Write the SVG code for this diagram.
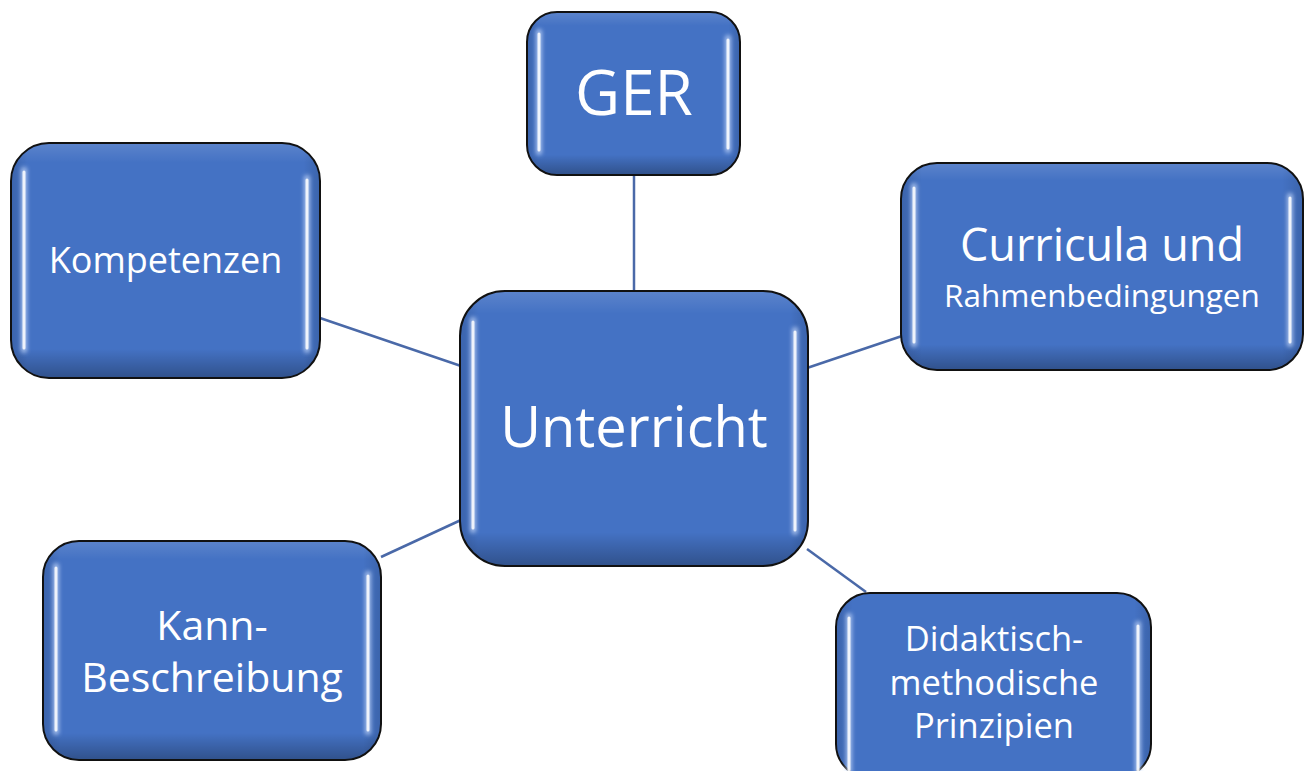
<svg xmlns="http://www.w3.org/2000/svg" width="1312" height="771" viewBox="0 0 1312 771">
<defs>
<linearGradient id="shade" x1="0" y1="0" x2="0" y2="1">
<stop offset="0" stop-color="#ffffff" stop-opacity="0.12"/>
<stop offset="0.08" stop-color="#ffffff" stop-opacity="0"/>
<stop offset="0.88" stop-color="#000000" stop-opacity="0"/>
<stop offset="1" stop-color="#000000" stop-opacity="0.28"/>
</linearGradient>
<linearGradient id="side" x1="0" y1="0" x2="1" y2="0">
<stop offset="0" stop-color="#000000" stop-opacity="0.12"/>
<stop offset="0.05" stop-color="#000000" stop-opacity="0"/>
<stop offset="0.95" stop-color="#000000" stop-opacity="0"/>
<stop offset="1" stop-color="#000000" stop-opacity="0.12"/>
</linearGradient>
<filter id="glow" x="-50%" y="-10%" width="200%" height="120%">
<feGaussianBlur stdDeviation="2"/>
</filter>
</defs>
<style>
.box{fill:#4472c4;stroke:#111;stroke-width:2}
.ov{fill:url(#shade);stroke:none}
.ov2{fill:url(#side);stroke:none}
.hl{stroke:#ffffff;stroke-width:3;stroke-linecap:round;fill:none;opacity:0.85}
.hlg{stroke:#cfe0ff;stroke-width:6;stroke-linecap:round;fill:none;opacity:0.7;filter:url(#glow)}
.t{fill:#ffffff;font-family:"Open Sans","Noto Sans",sans-serif;text-anchor:middle}
.c{stroke:#4a69a8;stroke-width:2.5;fill:none}
</style>
<rect width="1312" height="771" fill="#ffffff"/>
<g id="connectors">
<line class="c" x1="634" y1="175" x2="634" y2="292"/>
<line class="c" x1="320" y1="318" x2="461" y2="366"/>
<line class="c" x1="807" y1="368" x2="902" y2="336"/>
<line class="c" x1="381" y1="557" x2="461" y2="520"/>
<line class="c" x1="807" y1="549" x2="866" y2="592"/>
</g>
<g id="ger">
<rect class="box" x="527" y="12" width="213" height="163" rx="30"/>
<rect class="ov" x="528" y="13" width="211" height="161" rx="29"/>
<rect class="ov2" x="528" y="13" width="211" height="161" rx="29"/>
<path class="hlg" d="M539,32 L539,152 M728,38 L728,150"/>
<path class="hl" d="M539,34 L539,150 M728,40 L728,148"/>
<text class="t" x="634" y="115" font-size="62">GER</text>
</g>
<g id="unterricht">
<rect class="box" x="460" y="291" width="348" height="275" rx="45"/>
<rect class="ov" x="461" y="292" width="346" height="273" rx="44"/>
<rect class="ov2" x="461" y="292" width="346" height="273" rx="44"/>
<path class="hlg" d="M473,320 L473,530 M795,330 L795,532"/>
<path class="hl" d="M473,322 L473,528 M795,332 L795,530"/>
<text class="t" x="634" y="447" font-size="56">Unterricht</text>
</g>
<g id="curricula">
<rect class="box" x="901" y="163" width="402" height="207" rx="36"/>
<rect class="ov" x="902" y="164" width="400" height="205" rx="35"/>
<rect class="ov2" x="902" y="164" width="400" height="205" rx="35"/>
<path class="hlg" d="M914,186 L914,344 M1290,196 L1290,344"/>
<path class="hl" d="M914,188 L914,342 M1290,198 L1290,342"/>
<text class="t" x="1102" y="261" font-size="45">Curricula und</text>
<text class="t" x="1102" y="307" font-size="31.5">Rahmenbedingungen</text>
</g>
<g id="kompetenzen">
<rect class="box" x="11" y="143" width="309" height="235" rx="38"/>
<rect class="ov" x="12" y="144" width="307" height="233" rx="37"/>
<rect class="ov2" x="12" y="144" width="307" height="233" rx="37"/>
<path class="hlg" d="M24,170 L24,350 M307,178 L307,350"/>
<path class="hl" d="M24,172 L24,348 M307,180 L307,348"/>
<text class="t" x="165.5" y="273" font-size="36">Kompetenzen</text>
</g>
<g id="kann">
<rect class="box" x="43" y="541" width="338" height="219" rx="36"/>
<rect class="ov" x="44" y="542" width="336" height="217" rx="35"/>
<rect class="ov2" x="44" y="542" width="336" height="217" rx="35"/>
<path class="hlg" d="M56,566 L56,732 M368,574 L368,732"/>
<path class="hl" d="M56,568 L56,730 M368,576 L368,730"/>
<text class="t" x="212" y="640" font-size="41">Kann-</text>
<text class="t" x="212" y="692" font-size="41">Beschreibung</text>
</g>
<g id="didaktisch">
<rect class="box" x="836" y="593" width="315" height="185" rx="34"/>
<rect class="ov2" x="837" y="594" width="313" height="183" rx="33"/>
<path class="hlg" d="M849,616 L849,771 M1138,624 L1138,771"/>
<path class="hl" d="M849,618 L849,771 M1138,626 L1138,771"/>
<text class="t" x="994" y="651" font-size="34.5">Didaktisch-</text>
<text class="t" x="994" y="695" font-size="34.5">methodische</text>
<text class="t" x="994" y="738" font-size="34.5">Prinzipien</text>
</g>
</svg>
